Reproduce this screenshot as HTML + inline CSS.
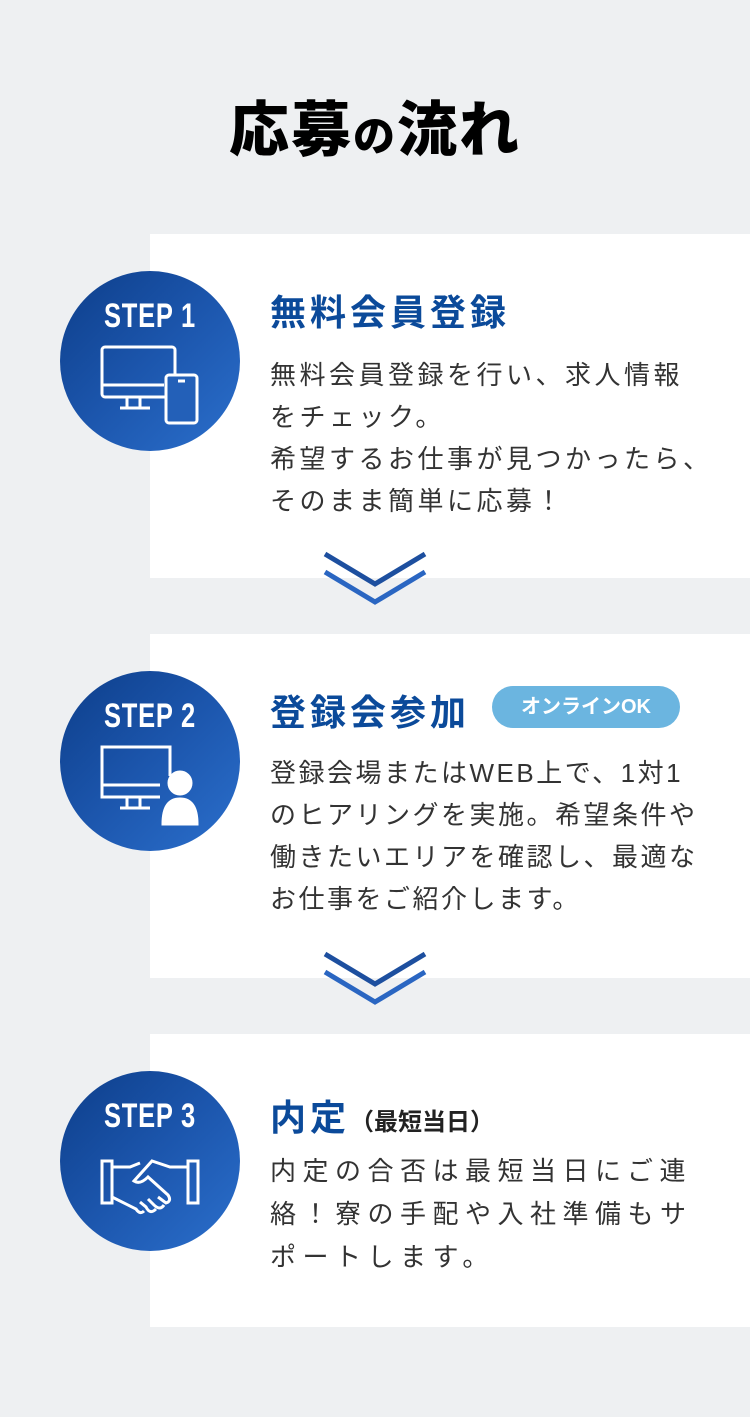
<!DOCTYPE html>
<html><head><meta charset="utf-8"><style>
*{margin:0;padding:0;box-sizing:border-box}
body{width:750px;height:1417px;background:#eef0f2;position:relative;overflow:hidden;font-family:"Liberation Sans","Noto Sans CJK JP",sans-serif}
.title{position:absolute;top:82px;left:0;width:750px;text-align:center;font-size:60px;font-weight:900;color:#000;letter-spacing:2px}
.title small{font-size:42px}
.panel{position:absolute;left:150px;width:600px;background:#fff}
.circle{position:absolute;left:60px;width:180px;height:180px;border-radius:50%;background:linear-gradient(135deg,#0d3e8a 0%,#1c56ad 50%,#2b6fcc 100%)}
.step{position:absolute;top:26px;left:0;width:180px;text-align:center;color:#fff;font-weight:bold;font-size:34px;transform:scaleX(.75);letter-spacing:1px}
.circle svg{position:absolute;left:0;top:0}
.h{position:absolute;left:270px;font-size:36px;font-weight:bold;color:#0b4a9a;letter-spacing:4px}
.h span{color:#222;font-size:24px;letter-spacing:0}
.t{position:absolute;left:270px;font-size:26px;line-height:42px;color:#333;letter-spacing:3.5px;white-space:nowrap}
.badge{position:absolute;left:492px;top:686px;width:188px;height:42px;border-radius:21px;background:#6bb5e0;color:#fff;font-weight:bold;font-size:20px;text-align:center;line-height:42px}
.chev{position:absolute;left:320px}
</style></head><body>
<div class="title">応募<small>の</small>流れ</div>

<div class="panel" style="top:234px;height:344px"></div>
<div class="panel" style="top:634px;height:344px"></div>
<div class="panel" style="top:1034px;height:293px"></div>

<svg class="chev" style="top:548px" width="110" height="64"><polyline points="5,6 55,36 105,6" fill="none" stroke="#1d4f9f" stroke-width="5"/><polyline points="5,24 55,54 105,24" fill="none" stroke="#2a66c2" stroke-width="5"/></svg>
<svg class="chev" style="top:948px" width="110" height="64"><polyline points="5,6 55,36 105,6" fill="none" stroke="#1d4f9f" stroke-width="5"/><polyline points="5,24 55,54 105,24" fill="none" stroke="#2a66c2" stroke-width="5"/></svg>

<div class="circle" style="top:271px"><div class="step">STEP 1</div>
<svg width="180" height="180" fill="none" stroke="#fff" stroke-width="3"><rect x="42" y="76" width="73" height="50" rx="3"/><line x1="42" y1="114" x2="104" y2="114"/><line x1="67" y1="126" x2="67" y2="137"/><line x1="80" y1="126" x2="80" y2="137"/><line x1="60" y1="137" x2="90" y2="137"/><rect x="106" y="104" width="31" height="48" rx="3" fill="#2360b8"/><line x1="118" y1="110" x2="125" y2="110"/></svg></div>
<div class="circle" style="top:671px"><div class="step">STEP 2</div>
<svg width="180" height="180" fill="none" stroke="#fff" stroke-width="3"><path d="M110 105 V76 H42 V126 H100"/><line x1="42" y1="114" x2="100" y2="114"/><line x1="67" y1="126" x2="67" y2="137"/><line x1="80" y1="126" x2="80" y2="137"/><line x1="60" y1="137" x2="90" y2="137"/><circle cx="120" cy="112" r="11" fill="#fff"/><path d="M103 153 Q103 128 120 128 Q137 128 137 153 Z" fill="#fff"/></svg></div>
<div class="circle" style="top:1071px"><div class="step">STEP 3</div>
<svg width="180" height="180" fill="none" stroke="#fff" stroke-width="3"><rect x="42" y="90" width="10" height="42"/><rect x="128" y="90" width="10" height="42"/><path d="M52 96 H70 L80 92 M128 96 H110 L92 90 L74 110 Q80 114 88 106 L108 124 Q112 130 106 132 L98 126 M104 134 Q100 140 94 134 L88 128 M96 138 Q90 144 86 136 L80 131 M84 140 Q80 144 76 138 L52 126"/></svg></div>

<div class="h" style="top:284px">無料会員登録</div>
<div class="t" style="top:354px">無料会員登録を行い、求人情報<br>をチェック。<br>希望するお仕事が見つかったら、<br>そのまま簡単に応募！</div>

<div class="h" style="top:684px">登録会参加</div>
<div class="badge">オンラインOK</div>
<div class="t" style="top:752px;letter-spacing:2.5px">登録会場またはWEB上で、1対1<br>のヒアリングを実施。希望条件や<br>働きたいエリアを確認し、最適な<br>お仕事をご紹介します。</div>

<div class="h" style="top:1089px">内定<span>（最短当日）</span></div>
<div class="t" style="top:1150px;letter-spacing:6.5px;line-height:43px">内定の合否は最短当日にご連<br>絡！寮の手配や入社準備もサ<br>ポートします。</div>
</body></html>
